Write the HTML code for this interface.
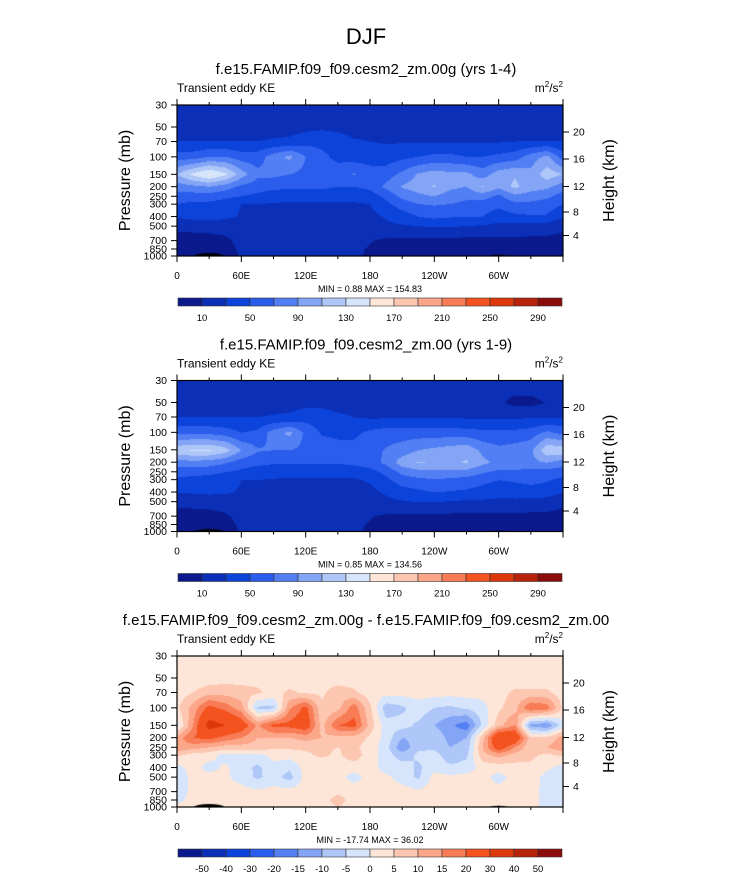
<!DOCTYPE html>
<html><head><meta charset="utf-8">
<style>
body{margin:0;background:#fff;width:733px;height:872px;overflow:hidden;font-family:"Liberation Sans",sans-serif;}
svg text{font-family:"Liberation Sans",sans-serif;fill:#000;}
canvas{position:absolute;}
</style></head>
<body>
<div id="wrap" style="position:relative;width:733px;height:872px;">
<svg id="svg" width="733" height="872" style="position:absolute;left:0;top:0">
<text x="366" y="44" font-size="22" text-anchor="middle">DJF</text>
</svg>
</div>
<script>
// ---- data ----
const lons = [0,15,30,45,60,75,90,105,120,135,150,165,180,195,210,225,240,255,270,285,300,315,330,345,360];
const levels = [30,50,70,100,150,200,250,300,400,500,700,850,1000];
const lonTicks = [0,60,120,180,240,300];
const lonTickLabels = ["0","60E","120E","180","120W","60W"];
const presTicks = [30,50,70,100,150,200,250,300,400,500,700,850,1000];
const heightTickLabels = ["20","16","12","8","4"];
const heightTickOffsets = [27,54,81.5,107,130.5];
const colors = ["#0a1a8c","#0b2fb6","#0c43da","#2b5ded","#527ff3","#84a5f5","#aec7f8","#d6e5fb","#fde6d8","#fcc6b0","#fba688","#f87c55","#f4521f","#dc380b","#b8220b","#8c0b0b"];
const levsA = [10,30,50,70,90,110,130,150,170,190,210,230,250,270,290];
const levsD = [-50,-40,-30,-20,-15,-10,-5,0,5,10,15,20,30,40,50];
const labelsA = ["10","50","90","130","170","210","250","290"];
const labelsD = ["-50","-40","-30","-20","-15","-10","-5","0","5","10","15","20","30","40","50"];

const field1 = [
[20,20,20,20,20,20,20,20,20,20,20,20,20,20,20,20,20,20,20,20,20,20,20,20,20],
[22,22,22,22,22,22,22,22,24,26,24,22,22,22,22,22,22,22,22,22,22,22,22,22,22],
[30,30,30,30,30,30,32,34,42,44,40,32,30,28,28,28,28,28,28,28,28,30,30,30,30],
[60,60,70,70,60,60,80,95,70,55,45,40,40,40,45,50,55,55,50,50,55,60,80,95,60],
[110,135,152,135,100,75,75,70,65,60,60,72,60,60,75,92,100,95,95,80,100,108,95,122,110],
[80,85,90,80,65,60,55,55,55,55,50,50,55,75,92,100,112,95,90,112,95,115,100,95,80],
[60,60,60,55,50,45,40,35,35,35,35,35,40,55,75,85,90,80,75,80,65,85,80,75,60],
[50,45,45,40,30,30,28,28,28,28,28,28,30,45,60,70,72,70,65,60,55,65,65,60,50],
[32,38,40,35,28,25,25,25,25,25,25,25,25,32,40,50,55,52,52,50,40,45,48,48,32],
[13,14,15,16,22,22,22,22,22,22,22,22,22,26,28,30,32,32,30,28,24,24,22,20,13],
[5,5,5,7,14,14,14,14,14,14,14,14,11,7,6,5,5,5,4,5,6,5,5,5,5],
[4,4,4,6,12,12,12,13,12,12,12,12,9,5,5,4,4,4,4,4,4,4,4,4,4],
[4,4,3,5,11,11,11,11,11,11,11,11,9,4,4,4,4,4,4,4,4,4,4,4,4]];
const field2 = [
[20,20,20,20,20,20,20,20,20,20,20,20,20,20,20,20,20,20,20,20,20,20,20,20,20],
[22,22,22,22,22,22,22,22,24,24,22,22,22,22,22,22,22,22,22,22,13,5,5,11,22],
[30,30,30,30,30,30,32,34,42,40,34,30,28,28,28,28,28,28,28,28,28,28,28,28,30],
[65,65,65,60,50,55,80,95,65,48,45,45,55,60,60,60,60,60,58,55,55,55,60,75,65],
[125,132,132,120,90,72,70,70,65,62,58,58,62,72,80,90,95,100,105,85,75,80,85,125,125],
[80,82,80,72,60,55,52,52,52,52,52,55,60,75,100,112,108,105,112,95,85,85,85,90,80],
[58,58,55,50,45,40,38,36,35,35,35,37,42,55,75,82,85,85,82,72,65,65,62,60,58],
[45,42,40,38,30,30,28,28,28,28,28,28,32,45,60,65,68,65,62,55,50,52,55,52,45],
[30,32,34,32,28,25,25,25,25,25,25,25,25,32,40,45,50,48,46,42,38,40,42,40,30],
[13,14,15,16,22,22,22,22,22,22,22,22,22,26,28,30,30,28,26,26,24,24,22,20,13],
[5,5,5,8,14,14,14,14,14,14,14,14,11,7,6,5,5,5,5,5,5,5,5,5,5],
[4,4,4,6,12,12,12,13,12,12,12,12,9,5,5,4,4,4,4,4,4,4,4,4,4],
[4,4,3,5,11,11,11,11,11,11,11,11,9,4,4,4,4,4,4,4,4,4,4,4,4]];
const field3 = [
[2,2,2,2,2,2,2,2,2,2,2,2,2,2,2,2,2,2,2,2,2,2,2,2,2],
[2,2,2,3,3,3,3,2,2,2,2,2,2,2,2,2,2,2,2,2,2,2,2,2,2],
[2,5,8,8,7,6,3,6,4,4,8,6,2,2,2,2,2,2,2,2,3,6,6,6,2],
[4,12,22,18,12,-6,-6,14,22,6,8,18,6,-8,-6,-2,-5,-6,-4,-2,4,8,20,18,4],
[-2,15,34,30,25,14,22,22,25,8,20,22,8,-3,-3,-6,-10,-14,-18,-4,8,15,-12,-14,-2],
[12,20,22,18,15,10,10,10,12,10,8,8,4,-2,-10,-8,-6,-12,-10,8,30,28,6,6,12],
[14,12,10,8,8,8,6,6,6,6,5,6,3,-3,-14,-6,-6,-10,-8,10,25,15,6,10,14],
[6,3,2,-2,-2,-2,2,2,4,6,4,8,2,-2,-8,-4,-3,-8,-6,8,12,8,6,4,6],
[-2,2,-2,1,-3,-6,-2,-4,2,1,2,2,2,-2,-2,-6,-2,-4,-3,2,2,3,4,1,-2],
[-2,1,2,1,-2,-6,-3,-7,2,2,2,-2,2,1,-2,-6,2,1,2,2,-2,2,3,-2,-2],
[-2,1,2,2,2,1,2,2,2,2,4,3,2,2,2,1,2,2,2,2,2,2,2,-2,-2],
[-2,2,2,2,2,2,2,2,2,3,7,3,2,2,2,2,2,2,2,2,2,2,2,-2,-2],
[2,2,2,2,2,2,2,2,2,3,5,3,2,2,2,2,2,2,2,2,2,2,2,-2,-2]];

const panels = [
 {top:105, field:field1, levs:levsA, lab:labelsA, title:"f.e15.FAMIP.f09_f09.cesm2_zm.00g (yrs 1-4)", mm:"MIN =   0.88  MAX = 154.83", labAt:[0,2,4,6,8,10,12,14]},
 {top:380.5, field:field2, levs:levsA, lab:labelsA, title:"f.e15.FAMIP.f09_f09.cesm2_zm.00 (yrs 1-9)", mm:"MIN =   0.85  MAX = 134.56", labAt:[0,2,4,6,8,10,12,14]},
 {top:656, field:field3, levs:levsD, lab:labelsD, title:"f.e15.FAMIP.f09_f09.cesm2_zm.00g - f.e15.FAMIP.f09_f09.cesm2_zm.00", mm:"MIN = -17.74  MAX =  36.02", labAt:[0,1,2,3,4,5,6,7,8,9,10,11,12,13,14]}
];
const names=['top','middle','diff'];
// ---- axes ----
const L=177, W=386, H=151;
const xOf = lon => L + lon/360*W;
const yOf = (p,top) => top + Math.log(p/30)/Math.log(1000/30)*H;
const svg = document.getElementById('svg');
const NS="http://www.w3.org/2000/svg";
function mk(tag, attrs, txt){const e=document.createElementNS(NS,tag);for(const k in attrs)e.setAttribute(k,attrs[k]);if(txt!==undefined)e.textContent=txt;svg.appendChild(e);return e;}
function val(F, lon, p){
  let i=Math.min(Math.floor(lon/15),23); let fx=(lon-lons[i])/15;
  const lp=Math.log(p); let j=0; while(j<levels.length-2 && lp>Math.log(levels[j+1])) j++;
  let fy=(lp-Math.log(levels[j]))/(Math.log(levels[j+1])-Math.log(levels[j])); fy=Math.max(0,Math.min(1,fy));
  const a=F[j][i],b=F[j][i+1],c=F[j+1][i],d=F[j+1][i+1];
  return (a*(1-fx)+b*fx)*(1-fy)+(c*(1-fx)+d*fx)*fy;
}
function colorIdx(v,levs){let k=0;while(k<levs.length&&v>=levs[k])k++;return k;}
const wrap=document.getElementById('wrap');
panels.forEach((P,pi)=>{
  const top=P.top;
  const cv=document.createElement('canvas');
  cv.width=W;cv.height=H;cv.style.left=L+'px';cv.style.top=top+'px';
  
  
  wrap.insertBefore(cv, svg);
  const ctx=cv.getContext('2d');
  for(let py=0;py<H;py++){
    const p=30*Math.exp((py+0.5)/H*Math.log(1000/30));
    for(let px=0;px<W;px++){
      const lon=(px+0.5)/W*360;
      ctx.fillStyle=colors[colorIdx(val(P.field,lon,p),P.levs)];
      ctx.fillRect(px,py,1,1);
    }
  }
  ctx.fillStyle='#000';
  ctx.beginPath();ctx.ellipse(W*30/360,H,W*14/360,3,0,Math.PI,2*Math.PI);ctx.fill();
  ctx.beginPath();ctx.ellipse(W*300/360,H,W*8/360,1.2,0,Math.PI,2*Math.PI);ctx.fill();
  svg.style.zIndex=1;
  mk('rect',{x:L,y:top,width:W,height:H,fill:'none',stroke:'#000','stroke-width':1.2});
  mk('text',{x:366,y:top-31,'font-size':15,'text-anchor':'middle'},P.title);
  mk('text',{x:L,y:top-13,'font-size':12},'Transient eddy KE');
  const u=mk('text',{x:L+W,y:top-13,'font-size':12,'text-anchor':'end'});
  u.innerHTML='m<tspan font-size="8" dy="-5">2</tspan><tspan dy="5">/s</tspan><tspan font-size="8" dy="-5">2</tspan>';
  
  for(let lon=0;lon<=360;lon+=30){
    const major=lon%60===0, len=major?6:3;
    mk('line',{x1:xOf(lon),x2:xOf(lon),y1:top,y2:top-len,stroke:'#000'});
    mk('line',{x1:xOf(lon),x2:xOf(lon),y1:top+H,y2:top+H+len,stroke:'#000'});
  }
  lonTicks.forEach((t,k)=>{const e=mk('text',{x:xOf(t),y:top+174,'font-size':10,'text-anchor':'middle'},lonTickLabels[k]);});
  presTicks.forEach(p=>{const y=yOf(p,top);mk('line',{x1:L,x2:L-6,y1:y,y2:y,stroke:'#000'});
    const e=mk('text',{x:L-10,y:y+3.5,'font-size':10.5,'text-anchor':'end'},String(p));});
  heightTickOffsets.forEach((o,k)=>{const y=top+o;mk('line',{x1:L+W,x2:L+W+6,y1:y,y2:y,stroke:'#000'});
    const e=mk('text',{x:L+W+10,y:y+3.5,'font-size':10.5},heightTickLabels[k]);});
  const yl=mk('text',{x:0,y:0,'font-size':16,'text-anchor':'middle',transform:`translate(130,${top+H/2}) rotate(-90)`},'Pressure (mb)');
  
  const yr=mk('text',{x:0,y:0,'font-size':16,'text-anchor':'middle',transform:`translate(614,${top+H/2}) rotate(-90)`},'Height (km)');
  
  mk('text',{x:370,y:top+187,'font-size':9,'text-anchor':'middle'},P.mm);
  const cx0=178, cw=384/16, cy=top+193;
  colors.forEach((c,k)=>{const r=mk('rect',{x:cx0+k*cw,y:cy,width:cw,height:8,fill:c,stroke:'#333','stroke-width':0.6});
    });
  P.labAt.forEach((bi,k)=>{const e=mk('text',{x:cx0+(bi+1)*cw,y:cy+23,'font-size':9.5,'text-anchor':'middle'},P.lab[k]);});
});
</script>
</body></html>
